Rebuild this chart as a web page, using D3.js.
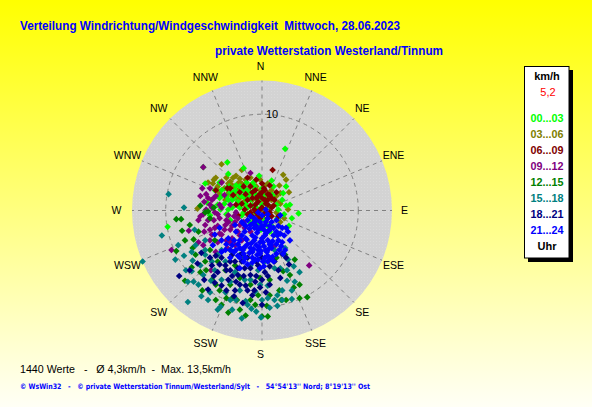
<!DOCTYPE html>
<html><head><meta charset="utf-8">
<script src="https://cdn.jsdelivr.net/npm/d3@7"></script>
<style>html,body{margin:0;padding:0;overflow:hidden;background:#fff} text{white-space:pre}</style>
</head><body><svg id="c" width="592" height="407"></svg>
<script>
// ---- data ----
const directions = ["N","NNE","NE","ENE","E","ESE","SE","SSE","S","SSW","SW","WSW","W","WNW","NW","NNW"];
const speedTicks = [10];
const maxSpeed = 13.5;
const hourLabels = ["00...03","03...06","06...09","09...12","12...15","15...18","18...21","21...24"];
const titleText = "Verteilung Windrichtung/Windgeschwindigkeit  Mittwoch, 28.06.2023";
const stationText = "private Wetterstation Westerland/Tinnum";
const statsText = "1440 Werte   -   Ø 4,3km/h  -  Max. 13,5km/h";
const footerText = "© WsWin32   -   © private Wetterstation Tinnum/Westerland/Sylt   -   54°54'13'' Nord; 8°19'13'' Ost";
const currentSpeed = "5,2";
// wind vectors [east component, north component] in km/h, per 3-hour block
const h00_03 = [[2.4,6.4],[-3.6,5.0],[-1.9,4.4],[-0.3,3.6],[-3.5,3.8],[-5.9,2.8],[-4.4,2.9],[-1.6,2.9],[-0.9,2.9],[1.0,3.1],[2.5,2.5],[1.1,1.6],[2.1,1.1],[2.5,0.5],[3.8,-0.3],[2.3,-0.4],[1.6,-0.8],[2.8,-1.6],[1.1,-1.7],[-5.7,0.8],[-9.8,-1.7],[-2.8,2.1],[-2.3,1.6],[-3.1,1.1],[-1.8,1.3],[-1.2,1.9],[-0.6,1.6],[0,2.3],[0.4,1.1],[0.8,0.4],[-2.5,0.5],[-3.5,0.1],[-4.2,1.5],[-4.9,2.1],[-1.5,0.3],[-0.7,-0.2],[0,0.6],[-2.1,-0.5],[-3.3,-1.0],[0.3,-1.0],[-0.1,-2.0],[0.8,-2.2],[-4.6,0.6],[-5.4,-0.5],[1.5,0.6],[-2.7,2.6],[-0.4,1.0],[-1.9,2.1],[-3.7,2.3],[-1.0,-0.8],
  [-4.2,2.1],[-3.7,1.5],[-3.3,1.9],[-2.9,1.3],[-2.5,0.9],[-2.1,1.5],[-1.7,0.7],[-1.2,1.1],[-3.9,0.7],[-3.5,1.1],[-3.1,0.3],[-2.7,-0.4],[-2.3,0.3],[-1.9,-0.2],[-1.5,1.5],[-1.0,0.5],[-3.7,-0.4],[-4.4,1.3],[-2.9,1.9],[-0.6,0.3],[-0.2,1.3],[0.2,1.7],[-2.3,2.5],[-1.6,2.1],[-4.3,0.1],[-3.4,2.5],[-0.8,2.5],[0,-0.6],[0.6,-1.6],[1.7,0.1],[2.2,1.8],[2.9,0.6],[1.2,2.5],[-1.3,-1.2],[-0.4,-1.4],[-6.1,4.5],[1.3,-2.5],[3.1,-0.8]];
const h03_06 = [[-4.2,4.8],[-4.8,3.4],[-5.6,2.9],[-5.1,2.8],[-2.3,3.3],[-2.7,3.6],[-2.4,2.9],[2.2,3.7],[1.8,2.6],[2.8,1.9],[1.9,1.8],[2.7,0.1],[1.9,-1.2],[-6.7,0.2],[-0.7,2.3],[-0.2,3.2],[0.3,2.6],[-1.5,1.6],[-1.0,1.1],[-0.4,1.6],[0.8,1.9],[1.0,1.1],[-1.9,2.3],[-3.1,2.6],[-3.5,1.8],[-2.7,1.3],[-3.8,1.1],[0,0.1],[0.6,1.5],[-1.8,0.6],[-3.0,3.4],[-4.6,2.1],[1.5,-0.2],[-1.2,2.6],[1.7,0.8],[0.8,-0.4],[-2.1,4.2],
  [-5.0,3.2],[-4.6,2.5],[-4.2,3.0],[-3.7,3.4],[-3.3,3.0],[-2.9,2.5],[-2.5,2.1],[-2.1,2.8],[-1.7,3.2],[-1.2,3.4],[-4.4,1.7],[-3.9,2.3],[-3.5,2.8],[-3.1,1.5],[-2.7,1.9],[-2.3,1.3],[-1.9,0.9],[-1.5,2.1],[-1.0,1.7],[-0.6,2.5],[-0.2,2.1],[0.2,0.9],[0.6,2.8],[1.0,2.1],[1.5,1.5],[1.9,0.7],[2.3,-0.8],[2.5,3.2]];
const h06_09 = [[1.1,4.2],[-4.8,2.1],[-3.6,2.3],[0,1.9],[-0.4,1.5],[0.3,1.1],[-0.7,0.6],[0.6,0.6],[-0.2,0.1],[-1.0,1.3],[0.8,1.6],[0,2.8],[-0.7,2.1],[0.4,-0.2],[-1.5,1.1],[-2.3,1.9],[-3.0,1.6],[-1.9,2.5],[1.0,0.3],[-0.4,-0.5],[-1.2,-0.2],[-2.7,0.6],[1.3,1.1],[-3.3,2.3],[0,1.3],[-1.8,0.1],[0.6,-0.8],[-0.7,-1.0],[-2.5,-0.5],[0.3,2.1],[0.8,2.6],[-0.6,3.2],[-1.5,3.4],
  [-1.0,1.9],[-0.6,1.3],[-0.2,1.7],[0.2,2.3],[0.6,1.7],[1.0,1.3],[-1.2,0.5],[-0.8,0.1],[-0.4,0.9],[0,0.3],[0.4,0.7],[0.8,-0.2],[1.2,0.5],[-1.0,-0.6],[-0.6,-0.2],[-0.2,-0.8],[0.2,-0.4],[0.6,1.1],[1.0,-0.6],[-1.5,-0.4],[-2.1,0.7],[1.5,1.9],[1.7,-0.6],[-1.2,2.5],[-1.7,1.7]];
const h09_12 = [[-6.1,4.5],[-4.2,2.9],[-1.2,3.9],[-6.0,0.9],[-6.1,-0.4],[-7.6,-2.1],[-9.4,-4.1],[-6.6,-3.3],[-6.1,-3.6],[1.2,-3.8],[4.9,-5.7],[-5.3,-6.2],[-5.4,0.6],[-4.9,-0.2],[-4.4,-0.8],[-5.6,-1.0],[-3.8,-1.5],[-4.9,-1.8],[-4.2,-2.5],[-3.3,-2.0],[-2.8,-1.2],[-3.5,-0.5],[-2.3,-1.5],[-5.2,-2.5],[-4.6,-3.3],[-3.7,-3.1],[-3.1,-2.9],[-2.5,-2.2],[-1.8,-1.8],[-5.9,-1.5],[-5.4,-2.0],[-4.4,0.6],[-3.3,0.6],[-2.7,-0.2],[-3.9,1.6],[-5.0,1.3],[-6.6,-1.0],[-2.1,-3.1],[-1.2,-2.2],[-3.6,-3.9],[-2.8,-3.6],[-4.8,-4.3],
  [-6.2,2.3],[-5.8,1.7],[-5.4,2.3],[-5.2,1.1],[-5.8,0.1],[-6.4,-0.6],[-5.0,-1.0],[-4.6,-1.6],[-3.9,-2.0],[-3.5,-1.2],[-3.1,-1.6],[-2.9,-0.6],[-5.2,0.3],[-4.8,1.5],[-4.2,0.3],[-3.7,-1.0],[-6.0,-2.2],[-5.4,-3.1],[-4.4,-2.4],[-3.3,-3.3],[-2.3,-2.6],[-1.9,-1.2],[-2.5,-0.8],[-5.6,1.3],[-6.4,1.5],[-4.6,-0.4]];
const h12_15 = [[-5.6,-0.1],[-8.9,-0.9],[-8.4,-0.9],[-8.3,-2.1],[-7.1,-3.0],[-8.9,-4.2],[-7.2,-3.9],[-7.3,-5.9],[-8.0,-7.3],[-6.2,-8.3],[3.4,-5.1],[2.2,-6.3],[3.3,-8.0],[3.9,-9.1],[4.7,-9.0],[1.8,-8.3],[2.0,-9.3],[0.5,-9.9],[-2.6,-9.3],[0,-11.0],[0.6,-11.0],[-1.7,-10.9],[-3.5,-10.6],[-3.1,-9.1],[-5.4,-4.1],[-4.6,-5.3],[-3.8,-6.2],[-5.2,-7.2],[-4.4,-8.3],[-3.3,-7.7],[-2.3,-7.0],[-1.2,-7.7],[-0.4,-8.8],[-5.9,-5.3],[-4.9,-3.1],[-6.4,-6.4],[-2.8,-5.7],[-1.8,-4.9],[0.8,-7.2],[2.4,-4.6],[-0.7,-9.8],[-4.2,-9.8],[-2.3,-10.3],[-4.8,-9.3],[-0.2,-7.0],[1.5,-4.9],[-6.6,-2.2],
  [-5.9,-0.2],[-5.4,-0.8],[-5.0,0.3],[-6.4,0.5],[-7.5,-1.5],[-8.0,-3.1],[-6.9,-4.6],[-5.8,-6.2],[-4.8,-7.7],[-3.7,-9.1],[-1.2,-9.3],[0.8,-8.8],[2.5,-9.3],[3.9,-7.7],[2.9,-6.7]];
const h15_18 = [[-9.7,1.7],[-8.1,0.3],[-10.4,-2.6],[-12.4,-5.3],[-9.0,-5.1],[-8.1,-4.7],[-7.3,-4.3],[-7.2,-5.2],[-7.3,-6.3],[-7.7,-7.4],[-7.1,-7.4],[-6.3,-8.9],[-7.7,-9.5],[-5.3,-7.3],[-4.3,-10.0],[2.7,-5.1],[3.3,-5.8],[1.3,-6.0],[2.6,-7.3],[3.4,-7.4],[3.1,-9.2],[1.6,-8.8],[0.6,-7.8],[1.3,-9.3],[1.6,-9.9],[-1.1,-10.2],[-0.7,-8.4],[-1.7,-9.4],[-0.1,-11.1],[-1.5,-9.8],[-3.3,-9.3],[-2.3,-8.3],[-5.4,-8.5],[-3.8,-8.5],[-3.1,-10.3],[-4.9,-6.2],[-5.9,-4.6],[-5.2,-5.3],[-3.8,-5.3],[-2.8,-6.4],[-4.2,-7.2],[-1.8,-7.2],[-0.4,-6.2],[0.3,-5.3],[1.3,-4.1],[2.4,-3.9],[-2.3,-4.6],[-3.3,-4.1],[-4.6,-4.6],[-6.1,-6.7],[-6.9,-3.6],[-5.9,-3.1],[-1.2,-5.7],[0,-9.3],[0.6,-9.1],[2.1,-8.3],[2.6,-6.2],[-6.4,-5.7],[-2.1,-11.2],
  [-6.6,-7.7],[-5.6,-9.3],[-4.6,-10.3],[-2.7,-9.3],[-0.6,-10.5],[0.8,-10.1],[2.1,-9.3],[3.1,-8.3],[3.9,-6.4],[-5.9,-4.1],[-7.0,-2.0],[-8.7,-3.6],[-7.9,-6.2],[-3.3,-7.4],[-0.2,-7.7],[1.9,-6.0],[-4.2,-4.1],[-1.2,-7.2]];
const h18_21 = [[-8.6,-6.8],[-6.7,-5.5],[-6.3,-4.4],[-5.6,-8.2],[-4.9,-7.5],[2.1,-4.5],[2.8,-5.6],[1.9,-7.0],[0,-9.8],[-1.5,-8.3],[-2.0,-9.6],[-3.8,-5.7],[-3.3,-6.2],[-2.5,-6.7],[-2.8,-5.3],[-1.8,-6.0],[-1.2,-6.7],[-0.7,-7.4],[-2.3,-7.7],[-3.5,-7.2],[-4.6,-6.4],[-4.2,-4.9],[-3.1,-4.6],[-1.5,-4.9],[-0.4,-5.7],[0.3,-6.4],[0.8,-7.7],[-1.0,-8.8],[-2.8,-8.3],[-5.2,-5.7],[-3.7,-8.3],[-2.1,-5.3],[0,-4.9],[1.3,-5.3],[-0.2,-8.0],
  [-4.8,-4.7],[-4.4,-5.6],[-3.7,-6.2],[-3.1,-6.8],[-2.7,-7.4],[-1.9,-6.8],[-1.2,-6.0],[-0.6,-6.8],[0,-7.2],[0.6,-6.8],[-3.3,-5.3],[-2.5,-6.0],[-1.7,-7.8],[-0.8,-8.3],[-4.2,-7.8],[-5.0,-6.8],[-2.1,-4.5],[-0.6,-5.3],[0.8,-5.8],[1.7,-6.2],[2.5,-4.9],[0.4,-8.5],[-2.9,-8.9],[-6.0,-7.2],[-7.5,-6.2],[-5.4,-4.9]];
const h21_24 = [[0,-0.5],[0.6,-0.8],[-0.6,-1.0],[1.0,-1.2],[0.3,-1.5],[-1.2,-1.5],[-0.4,-2.0],[0.8,-2.0],[1.5,-2.2],[-1.8,-2.2],[-1.0,-2.6],[0,-2.9],[0.6,-3.1],[1.7,-3.1],[-2.3,-3.1],[-1.5,-3.5],[-0.6,-3.6],[0.2,-3.7],[1.0,-3.9],[-2.0,-4.1],[-1.0,-4.3],[-0.2,-4.5],[0.6,-4.7],[1.5,-4.5],[2.2,-4.5],[-2.5,-4.7],[-1.7,-4.9],[-0.7,-5.1],[0.1,-5.3],[-3.1,-3.6],[-2.7,-2.2],[-3.5,-2.9],[-3.8,-4.1],[-3.3,-4.9],[-1.5,-5.6],[-2.3,-6.0],[1.2,-5.3],[2.0,-3.7],[2.3,-2.6],[1.7,-1.6],[0.4,0.1],[-0.4,-0.2],[-1.2,-0.6],[-2.1,-1.2],[-2.8,-1.5],[-4.2,-3.1],[-4.9,-2.5],[-4.4,-1.8],[-5.1,-3.6],[-0.2,-6.0],[2.5,-1.8],[2.9,-3.1],[1.9,-0.5],[-0.8,-3.1],[-0.2,-3.3],[0.4,-2.4],[1.2,-2.6],[-1.7,-2.9],[-0.4,-4.1],[0.4,-4.1],[-1.2,-3.9],[0.8,-3.5],[0,-1.6],[-0.8,-1.8],[-1.7,-1.6],[0.8,-1.6],[1.9,-2.4],[-2.3,-3.9],[-2.9,-4.3],[1.5,-3.5],[0.6,-5.3],[-1.0,-4.9],[-1.9,-4.5],
  [-1.9,-1.4],[-1.3,-1.9],[-0.9,-1.3],[-0.5,-2.3],[-0.1,-1.8],[0.3,-2.6],[0.7,-2.1],[1.1,-3.2],[-1.6,-3.0],[-1.1,-3.4],[-0.7,-2.8],[-0.3,-3.8],[0.1,-3.3],[0.5,-4.3],[0.9,-3.6],[-1.8,-3.8],[-1.3,-4.4],[-0.9,-4.0],[-0.5,-4.6],[-0.1,-4.2],[0.3,-4.9],[0.7,-4.0],[1.1,-4.8],[-2.1,-2.6],[-2.5,-3.5],[-2.9,-3.1],[-3.3,-4.1],[-3.7,-3.5],[-4.2,-4.3],[-2.7,-4.1],[-2.3,-4.9],[-1.9,-5.3],[-1.0,-5.4],[-0.4,-5.1],[0.2,-5.8],[0.8,-5.1],[1.8,-4.1],[2.1,-3.3],[1.6,-2.6],[1.2,-1.8],[0.4,-1.2],[-0.2,-1.2],[-0.8,-0.8],[-1.5,-1.0],[0.6,-0.4],[1.5,-1.0],[2.1,-1.8],[2.7,-2.2],[2.4,-4.1],[0.2,-2.0],[-0.6,-1.6]];
const hourSeries = [h00_03,h03_06,h06_09,h09_12,h12_15,h15_18,h18_21,h21_24];
const drawOrder = [1,0,2,3,4,5,6,7];

// ---- styles ----
const hourColors = ["#00ff00","#808000","#800000","#800080","#008000","#008080","#000080","#0000ff"];

const W = 592, H = 407, cx = 262, cy = 210.5, R = 130;
const svg = d3.select("#c");
const defs = svg.append("defs");
const g = defs.append("linearGradient").attr("id","bg").attr("x1",0).attr("y1",0).attr("x2",0).attr("y2",1);
g.append("stop").attr("offset","0%").attr("stop-color","#ffff00");
g.append("stop").attr("offset","100%").attr("stop-color","#fffff6");
const pat = defs.append("pattern").attr("id","dots").attr("width",3).attr("height",3).attr("patternUnits","userSpaceOnUse");
pat.append("rect").attr("width",3).attr("height",3).attr("fill","#d3d3d3");
pat.append("rect").attr("x",1).attr("y",1).attr("width",1).attr("height",1).attr("fill","#dadada");

svg.append("rect").attr("width",W).attr("height",H).attr("fill","url(#bg)");

const x = d3.scaleLinear().domain([-maxSpeed, maxSpeed]).range([cx - R, cx + R]);
const y = d3.scaleLinear().domain([-maxSpeed, maxSpeed]).range([cy + R, cy - R]);
const r = d3.scaleLinear().domain([0, maxSpeed]).range([0, R]);
const a = d3.scaleLinear().domain([0, directions.length]).range([0, 2 * Math.PI]);

const plot = svg.append("g");
plot.append("circle").attr("cx",cx).attr("cy",cy).attr("r",R).attr("fill","url(#dots)");

plot.selectAll("line.spoke").data(directions).join("line").attr("class","spoke")
  .attr("x1",cx).attr("y1",cy)
  .attr("x2",(d,i)=>cx + d3.pointRadial(a(i), R)[0])
  .attr("y2",(d,i)=>cy + d3.pointRadial(a(i), R)[1])
  .attr("stroke","#808080").attr("stroke-width",1).attr("stroke-dasharray","4,4");
plot.selectAll("circle.ring").data(speedTicks).join("circle").attr("class","ring")
  .attr("cx",cx).attr("cy",cy).attr("r",d=>r(d))
  .attr("fill","none").attr("stroke","#808080").attr("stroke-dasharray","4,4");
plot.selectAll("text.tick").data(speedTicks).join("text").attr("class","tick")
  .attr("x",cx+4).attr("y",d=>cy - r(d)).attr("dy","0.35em")
  .attr("font-family","Liberation Sans, Arial, sans-serif").attr("font-size",11).attr("fill","#000")
  .text(d=>d);
plot.selectAll("text.dir").data(directions).join("text").attr("class","dir")
  .attr("x",(d,i)=>cx - 1.5 + d3.pointRadial(a(i), r(maxSpeed) + 14)[0])
  .attr("y",(d,i)=>cy + d3.pointRadial(a(i), r(maxSpeed) + 14)[1])
  .attr("dy","0.35em").attr("text-anchor","middle")
  .attr("font-family","Liberation Sans, Arial, sans-serif").attr("font-size",10.5).attr("fill","#000")
  .text(d=>d);

const sym = d3.symbol().type(d3.symbolSquare).size(22);
drawOrder.forEach(k => {
  plot.append("g").selectAll("path").data(hourSeries[k]).join("path")
    .attr("d", sym)
    .attr("transform", d => `translate(${x(d[0])},${y(d[1])}) rotate(45)`)
    .attr("fill", hourColors[k]);
});

const F = "Liberation Sans, Arial, sans-serif";
svg.append("text").attr("x",20).attr("y",25).attr("dy","0.35em").attr("font-family",F).attr("font-weight","bold")
  .attr("font-size",13.5).attr("fill","#0000ff").attr("textLength",380).attr("lengthAdjust","spacingAndGlyphs").text(titleText);
svg.append("text").attr("x",215).attr("y",50).attr("dy","0.35em").attr("font-family",F).attr("font-weight","bold")
  .attr("font-size",13.5).attr("fill","#0000ff").attr("textLength",228).attr("lengthAdjust","spacingAndGlyphs").text(stationText);

const lg = svg.append("g");
lg.append("rect").attr("x",528).attr("y",70).attr("width",45).attr("height",192).attr("fill","#000");
lg.append("rect").attr("x",524.5).attr("y",66.5).attr("width",44.5).attr("height",191.5).attr("fill","#fff").attr("stroke","#000");
lg.append("text").attr("x",547).attr("y",76).attr("dy","0.35em").attr("text-anchor","middle").attr("font-family",F)
  .attr("font-weight","bold").attr("font-size",11).text("km/h");
lg.append("text").attr("x",548).attr("y",92).attr("dy","0.35em").attr("text-anchor","middle").attr("font-family",F)
  .attr("font-size",11).attr("fill","#ff0000").text(currentSpeed);
lg.selectAll("text.hr").data(hourLabels).join("text").attr("class","hr")
  .attr("x",530.5).attr("y",(d,i)=>117.7 + i*16.1).attr("dy","0.35em")
  .attr("font-family",F).attr("font-weight","bold").attr("font-size",11)
  .attr("textLength",33).attr("lengthAdjust","spacingAndGlyphs")
  .attr("fill",(d,i)=>hourColors[i]).text(d=>d);
lg.append("text").attr("x",547).attr("y",246.5).attr("dy","0.35em").attr("text-anchor","middle").attr("font-family",F)
  .attr("font-weight","bold").attr("font-size",11).text("Uhr");

svg.append("text").attr("x",20).attr("y",369).attr("dy","0.35em").attr("font-family",F)
  .attr("font-size",11.5).attr("fill","#000").attr("textLength",211).attr("lengthAdjust","spacingAndGlyphs").text(statsText);
svg.append("text").attr("x",20).attr("y",386).attr("dy","0.35em").attr("font-family","DejaVu Sans, Verdana, sans-serif")
  .attr("font-weight","bold").attr("font-size",7.5).attr("fill","#0000ff").attr("textLength",350).attr("lengthAdjust","spacingAndGlyphs").text(footerText);
</script></body></html>
